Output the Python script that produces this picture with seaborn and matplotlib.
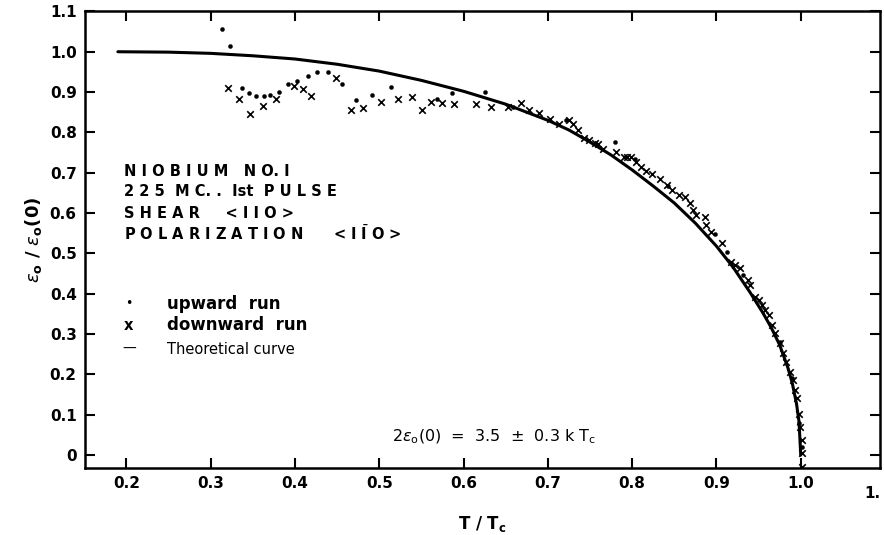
import matplotlib
matplotlib.use("Agg")
import matplotlib.pyplot as plt
import seaborn as sns
import pandas as pd

# ---- data ----
curve_x = [0.19, 0.25, 0.30, 0.35, 0.40, 0.45, 0.50, 0.55, 0.60, 0.65, 0.70, 0.725, 0.75,
           0.775, 0.80, 0.825, 0.85, 0.875, 0.90, 0.92, 0.94, 0.955, 0.965, 0.975, 0.985,
           0.99, 0.995, 0.998, 1.0]
curve_y = [1.0, 0.999, 0.996, 0.990, 0.982, 0.969, 0.952, 0.929, 0.902, 0.870, 0.830, 0.806,
           0.776, 0.744, 0.707, 0.667, 0.625, 0.575, 0.518, 0.465, 0.403, 0.353, 0.316, 0.273,
           0.215, 0.178, 0.127, 0.082, 0.0]

up_x = [0.313, 0.323, 0.337, 0.346, 0.354, 0.363, 0.371, 0.381, 0.392, 0.403, 0.415, 0.426,
        0.439, 0.456, 0.473, 0.492, 0.514, 0.569, 0.586, 0.625, 0.659, 0.721, 0.780, 0.803,
        0.843, 0.898, 0.913, 0.932, 0.975, 0.990, 0.998, 1.001]
up_y = [1.056, 1.015, 0.909, 0.898, 0.890, 0.890, 0.892, 0.899, 0.920, 0.927, 0.940, 0.950,
        0.950, 0.919, 0.880, 0.892, 0.913, 0.882, 0.897, 0.899, 0.864, 0.832, 0.777, 0.735,
        0.668, 0.548, 0.504, 0.446, 0.280, 0.190, 0.080, 0.020]

down_x = [0.321, 0.334, 0.347, 0.362, 0.378, 0.399, 0.410, 0.419, 0.449, 0.466, 0.481, 0.502,
          0.522, 0.539, 0.551, 0.562, 0.575, 0.589, 0.615, 0.632, 0.653, 0.668, 0.678, 0.690,
          0.703, 0.713, 0.725, 0.730, 0.736, 0.743, 0.749, 0.756, 0.760, 0.765, 0.781, 0.790,
          0.794, 0.799, 0.804, 0.811, 0.817, 0.823, 0.833, 0.841, 0.847, 0.855, 0.863, 0.869,
          0.872, 0.876, 0.886, 0.888, 0.894, 0.906, 0.917, 0.922, 0.928, 0.937, 0.940, 0.946,
          0.950, 0.954, 0.958, 0.962, 0.966, 0.969, 0.975, 0.979, 0.983, 0.987, 0.991, 0.993,
          0.995, 0.998, 0.999, 1.001, 1.002, 1.002]
down_y = [0.910, 0.884, 0.846, 0.865, 0.884, 0.916, 0.908, 0.890, 0.934, 0.855, 0.861, 0.875,
          0.884, 0.887, 0.855, 0.876, 0.874, 0.870, 0.871, 0.864, 0.864, 0.873, 0.856, 0.849,
          0.833, 0.822, 0.831, 0.822, 0.806, 0.785, 0.781, 0.774, 0.771, 0.760, 0.751, 0.740,
          0.738, 0.740, 0.727, 0.715, 0.705, 0.698, 0.684, 0.669, 0.657, 0.645, 0.639, 0.624,
          0.607, 0.596, 0.591, 0.570, 0.554, 0.526, 0.479, 0.471, 0.463, 0.434, 0.422, 0.393,
          0.384, 0.372, 0.360, 0.347, 0.322, 0.302, 0.277, 0.252, 0.231, 0.207, 0.186, 0.161,
          0.141, 0.103, 0.070, 0.037, 0.004, -0.029]

x_ticks = [0.2, 0.3, 0.4, 0.5, 0.6, 0.7, 0.8, 0.9, 1.0]
x_labels = ["0.2", "0.3", "0.4", "0.5", "0.6", "0.7", "0.8", "0.9", "1.0"]
y_ticks = [0, 0.1, 0.2, 0.3, 0.4, 0.5, 0.6, 0.7, 0.8, 0.9, 1.0, 1.1]
y_labels = ["0", "0.1", "0.2", "0.3", "0.4", "0.5", "0.6", "0.7", "0.8", "0.9", "1.0", "1.1"]

sns.set_style("ticks")
plt.rcParams['font.family'] = ['DejaVu Sans']
plt.rcParams.update({"text.color": "black", "axes.labelcolor": "black",
                     "xtick.color": "black", "ytick.color": "black",
                     "axes.edgecolor": "black"})

W, H = 884, 535
fig = plt.figure(figsize=(W / 100, H / 100), dpi=100)
ax = fig.add_axes([85 / W, 1 - 468 / H, (880 - 85) / W, (468 - 11) / H])

curve = pd.DataFrame({"x": curve_x, "y": curve_y})
up = pd.DataFrame({"x": up_x, "y": up_y})
down = pd.DataFrame({"x": down_x, "y": down_y})

sns.lineplot(data=curve, x="x", y="y", sort=False, color="black", linewidth=2.2, ax=ax)
sns.scatterplot(data=down, x="x", y="y", marker="x", s=22, color="black", linewidth=1.2, ax=ax)
sns.scatterplot(data=up, x="x", y="y", marker="o", s=9, color="black", edgecolor="black", ax=ax)

ax.set_xlim(0.151, 1.094)
ax.set_ylim(-0.032, 1.101)
ax.set_xticks(x_ticks)
ax.set_xticklabels(x_labels)
ax.set_yticks(y_ticks)
ax.set_yticklabels(y_labels)
ax.tick_params(axis="both", direction="in", length=7, width=1.5, labelsize=11,
               top=True, right=True, pad=6, colors="black")
for lab in ax.get_xticklabels() + ax.get_yticklabels():
    lab.set_fontweight("bold")
for sp in ax.spines.values():
    sp.set_linewidth(1.8)
    sp.set_visible(True)
    sp.set_color("black")

ax.set_xlabel(r"T / T$_\mathregular{c}$", fontsize=12, fontweight="bold", labelpad=16)
ax.set_ylabel(r"$\epsilon_\mathregular{o}$ / $\epsilon_\mathregular{o}$(0)", fontsize=13,
              fontweight="bold", labelpad=4)
fig.text(872 / W, 1 - 493 / H, "1.", fontsize=11, fontweight="bold", ha="center", va="center")

def ftext(px, py, s, **kw):
    fig.text(px / W, 1 - py / H, s, va="center", ha="left", **kw)

bold = dict(fontsize=10.5, fontweight="bold")
ftext(124, 171, "N I O B I U M   N O. I", **bold)
ftext(124, 192, "2 2 5  M C. .  Ist  P U L S E", **bold)
ftext(124, 213, "S H E A R     < I I O >", **bold)
ftext(124, 233, "P O L A R I Z A T I O N      < I $\\bar{\\mathregular{I}}$ O >", **bold)

leg = dict(fontsize=12, fontweight="bold")
ftext(125, 304, "•", fontsize=9)
ftext(167, 304, "upward  run", **leg)
ftext(124, 325, "x", **bold)
ftext(167, 325, "downward  run", **leg)
ftext(122, 349, "—", fontsize=10)
ftext(167, 349, "Theoretical curve", fontsize=10.5)

ftext(392, 437, r"2$\epsilon_\mathregular{o}$(0)  =  3.5  $\pm$  0.3 k T$_\mathregular{c}$",
      fontsize=11.5)

fig.savefig("out.png", dpi=100)
